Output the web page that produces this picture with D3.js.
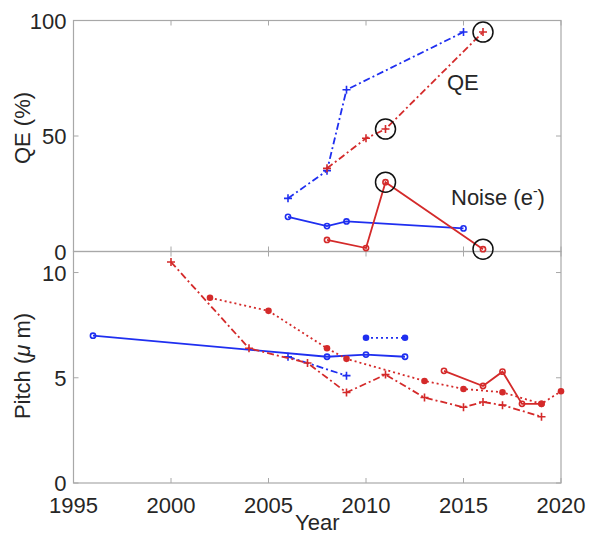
<!DOCTYPE html>
<html>
<head>
<meta charset="utf-8">
<script src="https://cdn.jsdelivr.net/npm/d3@7"></script>
<style>
  body { margin: 0; background: #fff; }
  text { font-family: "Liberation Sans", Helvetica, Arial, sans-serif; fill: #262626; }
</style>
</head>
<body>
<svg id="chart" width="589" height="541"></svg>
<script>
// ---- data (years / values) ----
// top panel: QE (%) and read noise (e-)
var qeBlueYears = [2006, 2008, 2009, 2015];
var qeBlue = [23, 35, 70, 95];
var qeRedYears = [2008, 2010, 2011, 2016];
var qeRed = [36, 49, 53, 95];
var noiseBlueYears = [2006, 2008, 2009, 2015];
var noiseBlue = [15, 11, 13, 10];
var noiseRedYears = [2008, 2010, 2011, 2016];
var noiseRed = [5, 1.5, 30, 1];
// highlighted points (circled)
var circledYears = [2011, 2016, 2011, 2016];
var circledValues = [53, 95, 30, 1];

// bottom panel: pixel pitch (um)
var pitchBlueSolidYears = [1996, 2008, 2010, 2012];
var pitchBlueSolid = [7.0, 6.0, 6.1, 6.0];
var pitchBlueDashYears = [2006, 2009];
var pitchBlueDash = [6.0, 5.1];
var pitchBlueDotYears = [2010, 2012];
var pitchBlueDot = [6.9, 6.9];
var pitchRedDashYears = [2000, 2004, 2007, 2009, 2011, 2013, 2015, 2016, 2017, 2019];
var pitchRedDash = [10.5, 6.4, 5.7, 4.3, 5.15, 4.06, 3.6, 3.85, 3.7, 3.15];
var pitchRedDotYears = [2002, 2005, 2008, 2009, 2013, 2015, 2017, 2019, 2020];
var pitchRedDot = [8.8, 8.18, 6.4, 5.9, 4.85, 4.47, 4.31, 3.76, 4.36];
var pitchRedSolidYears = [2014, 2016, 2017, 2018, 2019];
var pitchRedSolid = [5.33, 4.61, 5.29, 3.76, 3.76];

var yearTicks = [1995, 2000, 2005, 2010, 2015, 2020];
var qeTicks = [0, 50, 100];
var pitchTicks = [0, 5, 10];

var BLUE = "#1f2ff0";
var RED = "#d42a2a";

var svg = d3.select("#chart");
var left = 73.5, right = 561;
var topY = 20.5, midY = 251.5, botY = 483;

var x = d3.scaleLinear().domain([1995, 2020]).range([left, right]);
var yTop = d3.scaleLinear().domain([0, 100]).range([midY, topY]);
var yBot = d3.scaleLinear().domain([0, 11]).range([botY, midY]);

// draw a box-style panel (ticks inside, all four sides)
function drawPanel(y, yTicks, showX) {
  var g = svg.append("g");
  var y0 = y.range()[0], y1 = y.range()[1];
  g.append("rect")
    .attr("x", left).attr("y", y1)
    .attr("width", right - left).attr("height", y0 - y1)
    .attr("fill", "none").attr("stroke", "#a8a8a8").attr("stroke-width", 1.2);
  yearTicks.forEach(function(t) {
    g.append("line").attr("x1", x(t)).attr("x2", x(t)).attr("y1", y0).attr("y2", y0 - 5)
      .attr("stroke", "#a8a8a8");
    g.append("line").attr("x1", x(t)).attr("x2", x(t)).attr("y1", y1).attr("y2", y1 + 5)
      .attr("stroke", "#a8a8a8");
  });
  yTicks.forEach(function(t) {
    g.append("line").attr("x1", left).attr("x2", left + 5).attr("y1", y(t)).attr("y2", y(t))
      .attr("stroke", "#a8a8a8");
    g.append("line").attr("x1", right).attr("x2", right - 5).attr("y1", y(t)).attr("y2", y(t))
      .attr("stroke", "#a8a8a8");
    g.append("text").attr("x", left - 7).attr("y", y(t) + 8)
      .attr("text-anchor", "end").style("font-size", "22px").text(t);
  });
  if (showX) {
    yearTicks.forEach(function(t) {
      g.append("text").attr("x", x(t)).attr("y", y0 + 30)
        .attr("text-anchor", "middle").style("font-size", "22px").text(t);
    });
  }
}

drawPanel(yTop, qeTicks, false);
drawPanel(yBot, pitchTicks, true);

// series drawing
function series(years, vals, y, color, dash, marker) {
  var pts = years.map(function(d, i) { return [x(d), y(vals[i])]; });
  svg.append("path")
    .attr("d", d3.line()(pts))
    .attr("fill", "none").attr("stroke", color).attr("stroke-width", 1.8)
    .attr("stroke-dasharray", dash);
  var g = svg.append("g");
  pts.forEach(function(p) {
    if (marker === "+") {
      g.append("path")
        .attr("d", "M" + (p[0] - 4) + "," + p[1] + "h8M" + p[0] + "," + (p[1] - 4) + "v8")
        .attr("stroke", color).attr("stroke-width", 1.6);
    } else if (marker === "o") {
      g.append("circle").attr("cx", p[0]).attr("cy", p[1]).attr("r", 2.6)
        .attr("fill", "none").attr("stroke", color).attr("stroke-width", 1.6);
    } else {
      g.append("circle").attr("cx", p[0]).attr("cy", p[1]).attr("r", 3.3)
        .attr("fill", color);
    }
  });
}

var dashDot = "7,3,2,3";
series(qeBlueYears, qeBlue, yTop, BLUE, dashDot, "+");
series(qeRedYears, qeRed, yTop, RED, dashDot, "+");
series(noiseBlueYears, noiseBlue, yTop, BLUE, null, "o");
series(noiseRedYears, noiseRed, yTop, RED, null, "o");

circledYears.forEach(function(d, i) {
  svg.append("circle").attr("cx", x(d)).attr("cy", yTop(circledValues[i])).attr("r", 10)
    .attr("fill", "none").attr("stroke", "#111").attr("stroke-width", 1.5);
});

svg.append("text").attr("x", 447).attr("y", 90).style("font-size", "22px").text("QE");
var noiseLabel = svg.append("text").attr("x", 451).attr("y", 205).style("font-size", "22px");
noiseLabel.append("tspan").text("Noise (e");
noiseLabel.append("tspan").attr("dy", -9).style("font-size", "14px").text("-");
noiseLabel.append("tspan").attr("dy", 9).text(")");

series(pitchBlueSolidYears, pitchBlueSolid, yBot, BLUE, null, "o");
series(pitchBlueDashYears, pitchBlueDash, yBot, BLUE, dashDot, "+");
series(pitchBlueDotYears, pitchBlueDot, yBot, BLUE, "2,3", "*");
series(pitchRedDashYears, pitchRedDash, yBot, RED, dashDot, "+");
series(pitchRedDotYears, pitchRedDot, yBot, RED, "2,3", "*");
series(pitchRedSolidYears, pitchRedSolid, yBot, RED, null, "o");

// axis labels
svg.append("text").attr("x", (left + right) / 2).attr("y", 530)
  .attr("text-anchor", "middle").style("font-size", "22px").text("Year");
svg.append("text").attr("transform", "translate(30," + 128 + ") rotate(-90)")
  .attr("text-anchor", "middle").style("font-size", "22px").text("QE (%)");
var pl = svg.append("text").attr("transform", "translate(30," + 366 + ") rotate(-90)")
  .attr("text-anchor", "middle").style("font-size", "22px");
pl.append("tspan").text("Pitch (");
pl.append("tspan").style("font-style", "italic").text("\u03bc");
pl.append("tspan").text(" m)");
</script>
</body>
</html>
